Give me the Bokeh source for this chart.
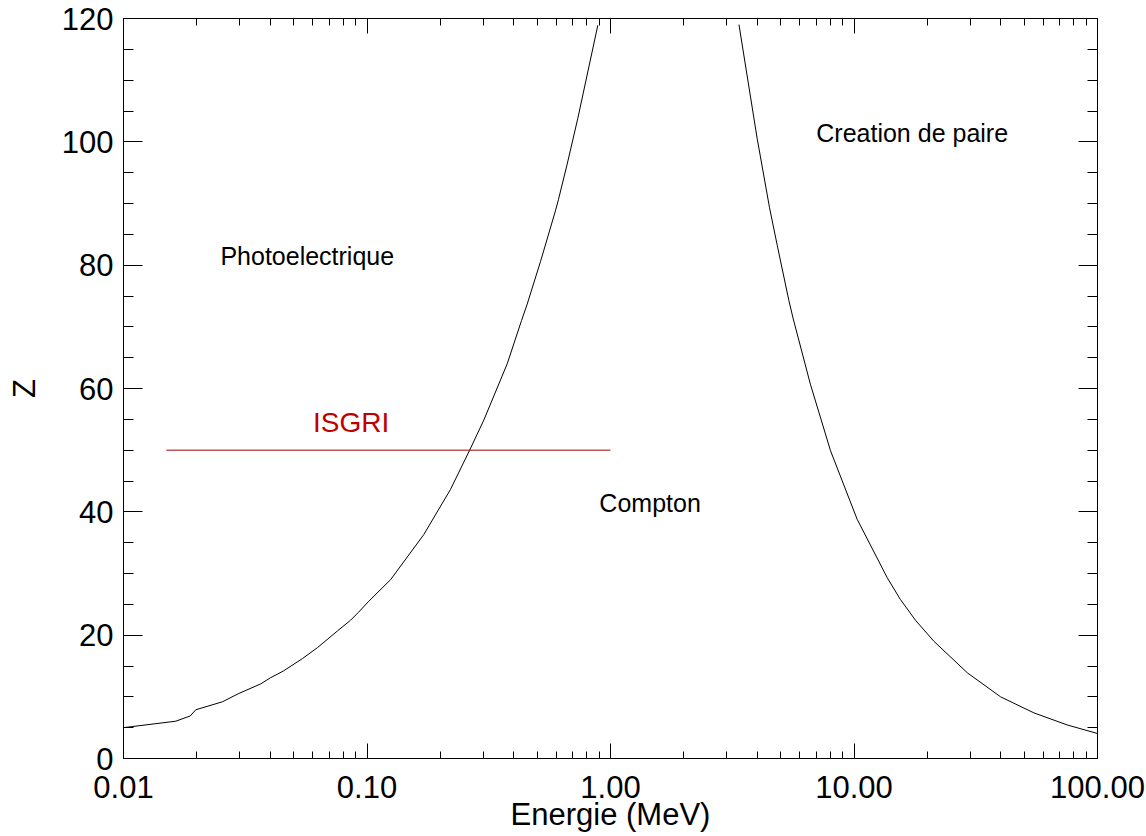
from bokeh.plotting import figure
from bokeh.models import FixedTicker, LogAxis, LinearAxis, CustomJSTickFormatter, Label, Range1d
from bokeh.embed import file_html
from bokeh.resources import INLINE

# Photoelectric / Compton boundary (Z vs energy in MeV)
photo_E = [0.01, 0.0164, 0.0188, 0.0198, 0.0255, 0.0296, 0.0366, 0.0402, 0.0454,
           0.0543, 0.0627, 0.0757, 0.0855, 0.0922, 0.1017, 0.125, 0.171, 0.220,
           0.264, 0.302, 0.3765, 0.431, 0.455, 0.516, 0.594, 0.611, 0.664, 0.734, 0.887]
photo_Z = [5.0, 6.05, 6.9, 7.9, 9.2, 10.5, 12.1, 13.1, 14.2,
           16.2, 18.0, 20.7, 22.4, 23.7, 25.5, 29.0, 36.3, 43.6,
           50.0, 54.9, 64.0, 71.0, 73.7, 80.6, 88.8, 90.6, 96.4, 103.8, 118.9]

# Compton / pair creation boundary
pair_E = [3.37, 4.00, 4.50, 4.84, 5.40, 5.62, 6.62, 8.01, 10.3, 13.7, 15.5,
          17.9, 21.3, 29.2, 40.0, 54.8, 75.0, 100.0]
pair_Z = [119.0, 100.6, 89.3, 83.2, 74.3, 71.4, 60.7, 49.9, 38.8, 29.3, 25.8,
          22.4, 19.0, 13.9, 10.0, 7.4, 5.45, 4.05]

# ISGRI range
isgri_E = [0.015, 1.0]
isgri_Z = [50, 50]

x_ticks = [0.01, 0.1, 1, 10, 100]
x_minor = [m * 10.0 ** d for d in range(-2, 2) for m in range(2, 10)]
y_ticks = [0, 20, 40, 60, 80, 100, 120]
y_minor = [v for v in range(0, 121, 5) if v % 20]

region_text = ["Photoelectrique", "Compton", "Creation de paire"]
region_E = [0.025, 0.9, 7.0]
region_Z = [80, 40, 100]
isgri_label = "ISGRI"
isgri_label_E = 0.06
isgri_label_Z = 53
x_title = "Energie (MeV)"
y_title = "Z"

FONT = "Liberation Sans"
RED_TEXT = "#c00000"
RED_LINE = "#990000"
TICK_PX = "31px"
BASE_FIX = 9  # baseline correction (px) for labels

p = figure(x_axis_type="log", x_range=Range1d(0.01, 100), y_range=Range1d(0, 120),
           frame_width=974, frame_height=740,
           min_border_left=123, min_border_right=49, min_border_top=18, min_border_bottom=78,
           output_backend="svg", toolbar_location=None)
p.xgrid.grid_line_color = None
p.ygrid.grid_line_color = None
p.outline_line_color = "black"
p.background_fill_color = "white"
p.border_fill_color = "white"

xa = p.xaxis[0]
xa.ticker = FixedTicker(ticks=x_ticks, minor_ticks=x_minor)
xa.formatter = CustomJSTickFormatter(code="return tick.toFixed(2);")
ya = p.yaxis[0]
ya.ticker = FixedTicker(ticks=y_ticks, minor_ticks=y_minor)

for ax, tin, mtin in ((xa, 15, 7), (ya, 19, 10)):
    ax.major_tick_in = tin
    ax.major_tick_out = 0
    ax.minor_tick_in = mtin
    ax.minor_tick_out = 0
    ax.axis_line_color = "black"
    ax.major_tick_line_color = "black"
    ax.minor_tick_line_color = "black"
    ax.major_label_text_font = FONT
    ax.major_label_text_font_size = TICK_PX
    ax.major_label_text_color = "black"
    ax.axis_label_text_font = FONT
    ax.axis_label_text_font_size = TICK_PX
    ax.axis_label_text_font_style = "normal"
    ax.axis_label_text_color = "black"

xa.axis_label = x_title
xa.major_label_standoff = 17
xa.axis_label_standoff = -4
ya.axis_label = y_title
ya.major_label_standoff = 10
ya.axis_label_standoff = 17

hide = CustomJSTickFormatter(code="return '';")
top = LogAxis(ticker=FixedTicker(ticks=x_ticks, minor_ticks=x_minor), formatter=hide,
              major_tick_in=15, major_tick_out=0, minor_tick_in=7, minor_tick_out=0,
              major_label_text_font_size="0px", major_label_standoff=0)
right = LinearAxis(ticker=FixedTicker(ticks=y_ticks, minor_ticks=y_minor), formatter=hide,
                   major_tick_in=19, major_tick_out=0, minor_tick_in=10, minor_tick_out=0,
                   major_label_text_font_size="0px", major_label_standoff=0)
p.add_layout(top, "above")
p.add_layout(right, "right")

p.line(photo_E, photo_Z, line_color="black", line_width=1)
p.line(pair_E, pair_Z, line_color="black", line_width=1)
p.line(isgri_E, isgri_Z, line_color=RED_LINE, line_width=1)

for t, e, z in zip(region_text, region_E, region_Z):
    p.add_layout(Label(x=e, y=z, text=t, y_offset=BASE_FIX, text_font=FONT,
                       text_font_size="25px", text_color="black",
                       text_align="left", text_baseline="alphabetic"))
p.add_layout(Label(x=isgri_label_E, y=isgri_label_Z, text=isgri_label, y_offset=BASE_FIX,
                   text_font=FONT, text_font_size="28px", text_color=RED_TEXT,
                   text_align="left", text_baseline="alphabetic"))

open("out.html", "w").write(file_html(p, INLINE))
